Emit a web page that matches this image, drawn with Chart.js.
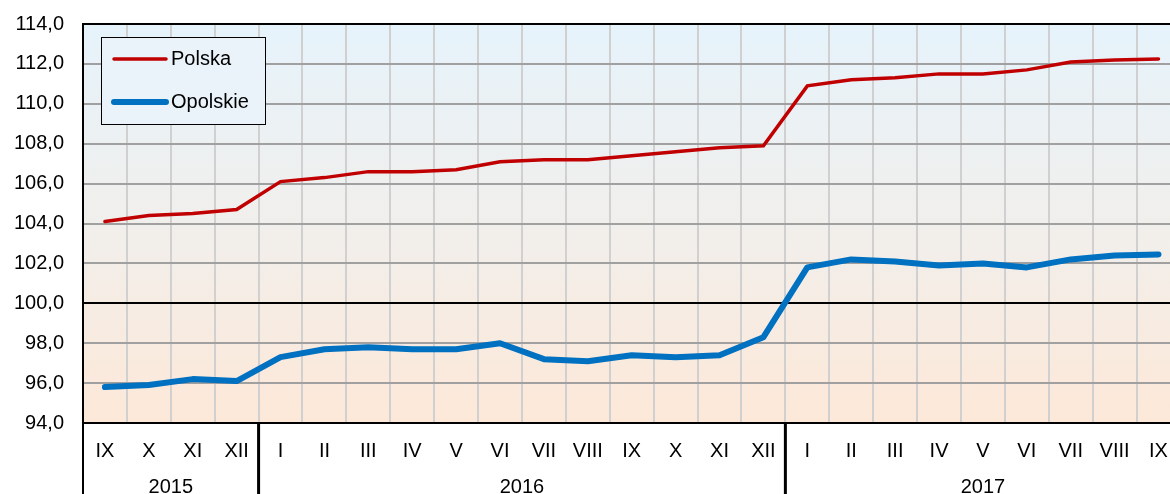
<!DOCTYPE html>
<html>
<head>
<meta charset="utf-8">
<script src="https://cdn.jsdelivr.net/npm/chart.js@4"></script>
<style>
  html, body { margin: 0; padding: 0; background: #fff; overflow: hidden; }
  #wrap { width: 1170px; height: 494px; position: relative; overflow: hidden; }
</style>
</head>
<body>
<div id="wrap"><canvas id="cpiChart" width="1184" height="494"></canvas></div>
<script>
// months Sep 2015 .. Sep 2017
const months = ['IX', 'X', 'XI', 'XII',
    'I', 'II', 'III', 'IV', 'V', 'VI', 'VII', 'VIII', 'IX', 'X', 'XI', 'XII',
    'I', 'II', 'III', 'IV', 'V', 'VI', 'VII', 'VIII', 'IX'];
const years = [
    { label: '2015', from: 0, to: 3 },
    { label: '2016', from: 4, to: 15 },
    { label: '2017', from: 16, to: 24 }
];
const polska = [104.1, 104.4, 104.5, 104.7,
    106.1, 106.3, 106.6, 106.6, 106.7, 107.1, 107.2, 107.2, 107.4, 107.6, 107.8, 107.9,
    110.9, 111.2, 111.3, 111.5, 111.5, 111.7, 112.1, 112.2, 112.25];
const opolskie = [95.8, 95.9, 96.2, 96.1,
    97.3, 97.7, 97.8, 97.7, 97.7, 98.0, 97.2, 97.1, 97.4, 97.3, 97.4, 98.3,
    101.8, 102.2, 102.1, 101.9, 102.0, 101.8, 102.2, 102.4, 102.45];
const yMin = 94, yMax = 114, yStep = 2;

const FONT = '"Liberation Sans", Arial, sans-serif';

// background, frame, year row and legend
const decor = {
    id: 'decor',
    beforeDraw(chart) {
        const { ctx, chartArea: a } = chart;
        const g = ctx.createLinearGradient(0, a.top, 0, a.bottom);
        g.addColorStop(0, '#e6f3fb');
        g.addColorStop(0.5, '#f1efec');
        g.addColorStop(1, '#fde8d8');
        ctx.save();
        ctx.fillStyle = g;
        ctx.fillRect(a.left, a.top, a.right - a.left, a.bottom - a.top);
        ctx.restore();
    },
    afterDraw(chart) {
        const { ctx, chartArea: a } = chart;
        const x = chart.scales.x;
        const H = chart.height;
        ctx.save();
        ctx.strokeStyle = '#000';
        ctx.lineWidth = 2;
        ctx.beginPath();
        ctx.moveTo(a.left, a.top);
        ctx.lineTo(a.right, a.top);
        ctx.moveTo(a.left, a.top);
        ctx.lineTo(a.left, H);
        ctx.stroke();

        ctx.lineWidth = 3;
        ctx.font = '20px ' + FONT;
        ctx.fillStyle = '#000';
        ctx.textAlign = 'center';
        ctx.textBaseline = 'middle';
        years.forEach((y, i) => {
            const l = (x.getPixelForValue(y.from) + x.getPixelForValue(y.from - 1)) / 2;
            const r = (x.getPixelForValue(y.to) + x.getPixelForValue(y.to + 1)) / 2;
            if (i > 0) {
                ctx.beginPath();
                ctx.moveTo(l, a.bottom);
                ctx.lineTo(l, H);
                ctx.stroke();
            }
            ctx.fillText(y.label, (l + r) / 2, 487);
        });

        // legend box
        ctx.fillStyle = '#e9f3f9';
        ctx.fillRect(101, 37, 164, 87);
        ctx.lineWidth = 1;
        ctx.strokeRect(101.5, 37.5, 164, 87);
        ctx.textAlign = 'left';
        const rows = [59, 102];
        chart.data.datasets.forEach((ds, i) => {
            ctx.strokeStyle = ds.borderColor;
            ctx.lineWidth = ds.borderWidth;
            ctx.lineCap = 'round';
            ctx.beginPath();
            ctx.moveTo(114, rows[i]);
            ctx.lineTo(166, rows[i]);
            ctx.stroke();
            ctx.fillStyle = '#000';
            ctx.fillText(ds.label, 171, rows[i]);
        });
        ctx.restore();
    }
};

new Chart(document.getElementById('cpiChart').getContext('2d'), {
    type: 'line',
    data: {
        labels: months,
        datasets: [{
            label: 'Polska',
            data: polska,
            borderColor: '#c00000',
            borderWidth: 3.5,
            pointRadius: 0,
            tension: 0,
            borderCapStyle: 'round'
        }, {
            label: 'Opolskie',
            data: opolskie,
            borderColor: '#0070c0',
            borderWidth: 6,
            pointRadius: 0,
            tension: 0,
            borderCapStyle: 'round',
            borderJoinStyle: 'round'
        }]
    },
    options: {
        responsive: false,
        animation: false,
        layout: { padding: { top: 24, right: 2, left: 0, bottom: 0 } },
        plugins: { legend: { display: false }, tooltip: { enabled: false } },
        scales: {
            x: {
                offset: true,
                grid: { offset: true, color: '#d0d0d0', lineWidth: 2, drawTicks: false },
                border: { color: '#000', width: 2 },
                ticks: {
                    color: '#000', padding: 16, maxRotation: 0, autoSkip: false,
                    font: { family: FONT, size: 20 }
                },
                afterFit(s) { s.height = 71; }
            },
            y: {
                min: yMin, max: yMax,
                grid: {
                    drawTicks: false,
                    color: c => c.tick && c.tick.value === 100 ? '#000' : '#a0a0a0',
                    lineWidth: 2
                },
                border: { color: '#000', width: 2 },
                ticks: {
                    stepSize: yStep, color: '#000', padding: 19,
                    font: { family: FONT, size: 20 },
                    callback: v => v.toFixed(1).replace('.', ',')
                },
                afterFit(s) { s.width = 83; s.paddingTop = 0; }
            }
        }
    },
    plugins: [decor]
});
</script>
</body>
</html>
